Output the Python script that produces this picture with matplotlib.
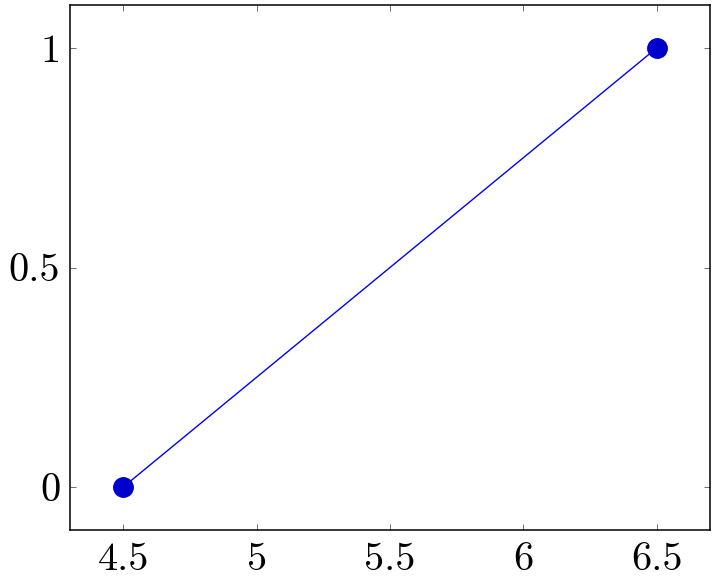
import matplotlib
matplotlib.use("Agg")
import matplotlib.pyplot as plt

plt.rcParams['font.family'] = 'cmr10'
plt.rcParams['mathtext.fontset'] = 'cm'
plt.rcParams['axes.formatter.use_mathtext'] = True

x = [4.5, 6.5]
y = [0, 1]
xticks = [4.5, 5, 5.5, 6, 6.5]
yticks = [0, 0.5, 1]

fig = plt.figure(figsize=(7.16, 5.78), dpi=100)
ax = fig.add_axes([70/716, 48/578, 640/716, 525/578])

ax.plot(x, y, color='blue', lw=1.0, marker='o', markersize=14,
        markerfacecolor=(0, 0, 0.8), markeredgecolor=(0, 0, 0.8))

ax.set_xlim(4.3, 6.7)
ax.set_ylim(-0.098, 1.098)
ax.set_xticks(xticks)
ax.set_yticks(yticks)
ax.set_xticklabels(['4.5', '5', '5.5', '6', '6.5'])
ax.set_yticklabels(['0', '0.5', '1'])
ax.tick_params(direction='in', length=4.5, width=0.6, color='#555555',
               top=True, right=True, labelsize=29, pad=9)
ax.tick_params(axis='y', pad=7)
for s in ax.spines.values():
    s.set_linewidth(1.1)

fig.savefig('out.png', dpi=100)
